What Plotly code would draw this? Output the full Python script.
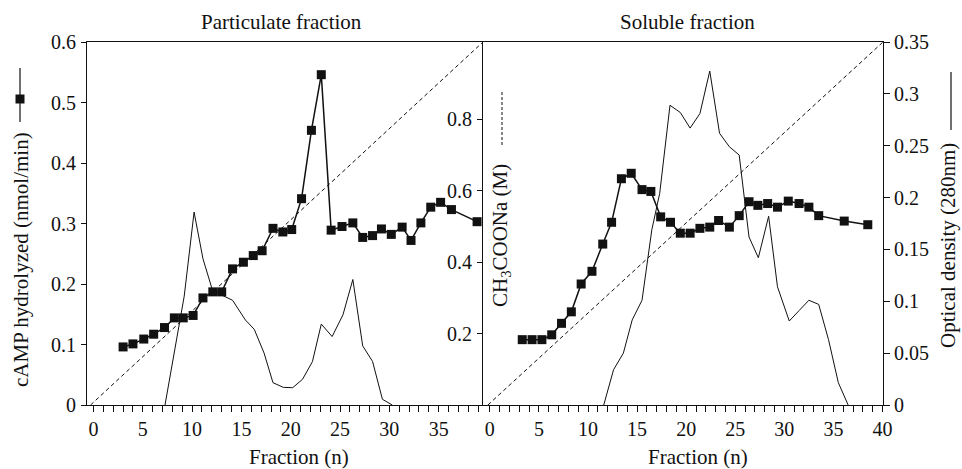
import plotly.graph_objects as go

# ---------------- data ----------------
# Particulate fraction: cAMP hydrolyzed (nmol/min)
part_frac = [3, 4, 5.1, 6.1, 7.2, 8.2, 9.1, 10.1, 11.1, 12.1, 13, 14.1, 15.2, 16.2, 17.1,
             18.2, 19.2, 20.1, 21.1, 22.1, 23.1, 24.1, 25.2, 26.3, 27.3, 28.3, 29.2,
             30.2, 31.3, 32.2, 33.2, 34.2, 35.2, 36.3, 38.9]
part_camp = [0.096, 0.101, 0.109, 0.117, 0.128, 0.144, 0.144, 0.148, 0.177, 0.187, 0.187,
             0.225, 0.236, 0.247, 0.255, 0.292, 0.286, 0.290, 0.341, 0.454, 0.546,
             0.289, 0.295, 0.301, 0.277, 0.280, 0.291, 0.282, 0.294, 0.272, 0.301,
             0.327, 0.335, 0.323, 0.303]
# Particulate fraction: optical density (280 nm)
part_od_frac = [7.25, 8.2, 9.2, 10.2, 11.1, 12.15, 13.0, 14.1, 15.4, 16.3, 17.3, 18.2,
                19.25, 20.2, 21.2, 22.2, 23.1, 24.2, 25.3, 26.3, 27.3, 28.3, 29.3, 30.3]
part_od = [0.0, 0.05, 0.105, 0.186, 0.141, 0.108, 0.106, 0.101, 0.082, 0.073, 0.050,
           0.0215, 0.017, 0.0167, 0.0248, 0.0418, 0.078, 0.066, 0.087, 0.121, 0.057,
           0.042, 0.0055, 0.0]
# Particulate fraction: CH3COONa gradient (M)
part_grad_frac = [-0.3, 39.5]
part_grad_m = [0.0, 1.017]

# Soluble fraction: cAMP hydrolyzed (nmol/min)
sol_frac = [3.3, 4.3, 5.3, 6.3, 7.3, 8.3, 9.3, 10.4, 11.5, 12.4, 13.4, 14.4, 15.5, 16.4,
            17.4, 18.4, 19.4, 20.4, 21.4, 22.4, 23.3, 24.4, 25.4, 26.4, 27.3, 28.3,
            29.3, 30.4, 31.5, 32.5, 33.5, 36.1, 38.5]
sol_camp = [0.108, 0.108, 0.108, 0.116, 0.135, 0.154, 0.200, 0.221, 0.266, 0.302, 0.374,
            0.383, 0.356, 0.353, 0.311, 0.302, 0.284, 0.284, 0.292, 0.294, 0.305, 0.294,
            0.313, 0.336, 0.330, 0.333, 0.327, 0.337, 0.333, 0.327, 0.313, 0.304, 0.298]
# Soluble fraction: optical density (280 nm)
sol_od_frac = [11.6, 12.6, 13.6, 14.5, 15.5, 16.5, 17.3, 18.35, 19.4, 20.4, 21.4, 22.4,
               23.4, 24.4, 25.4, 26.4, 27.35, 28.4, 29.3, 30.5, 31.5, 32.5, 33.5, 34.5,
               35.5, 36.5]
sol_od = [0.0, 0.034, 0.050, 0.082, 0.101, 0.169, 0.204, 0.289, 0.282, 0.267, 0.281,
          0.322, 0.262, 0.249, 0.241, 0.162, 0.142, 0.182, 0.114, 0.081, 0.091, 0.101,
          0.097, 0.063, 0.0215, 0.0]
# Soluble fraction: CH3COONa gradient (M)
sol_grad_frac = [-0.2, 40.05]
sol_grad_m = [0.0, 1.017]

# axis ticks
left_x_ticks = [0, 5, 10, 15, 20, 25, 30, 35]
right_x_ticks = [0, 5, 10, 15, 20, 25, 30, 35, 40]
camp_ticks = [0, 0.1, 0.2, 0.3, 0.4, 0.5, 0.6]
acetate_ticks = [0.2, 0.4, 0.6, 0.8]
od_ticks = [0, 0.05, 0.1, 0.15, 0.2, 0.25, 0.3, 0.35]

# ---------------- figure ----------------
FONT = "Liberation Serif"
fs_tick = 20
fs_lab = 21
black = "#111111"

fig = go.Figure()

sq = dict(symbol="square", size=9, color=black)

fig.add_trace(go.Scatter(x=part_grad_frac, y=part_grad_m, xaxis="x", yaxis="y3",
                         mode="lines", line=dict(color=black, width=1, dash="4px,3px")))
fig.add_trace(go.Scatter(x=part_od_frac, y=part_od, xaxis="x", yaxis="y2",
                         mode="lines", line=dict(color=black, width=1)))
fig.add_trace(go.Scatter(x=part_frac, y=part_camp, xaxis="x", yaxis="y",
                         mode="lines+markers", line=dict(color=black, width=1.5), marker=sq))

fig.add_trace(go.Scatter(x=sol_grad_frac, y=sol_grad_m, xaxis="x2", yaxis="y5",
                         mode="lines", line=dict(color=black, width=1, dash="4px,3px")))
fig.add_trace(go.Scatter(x=sol_od_frac, y=sol_od, xaxis="x2", yaxis="y4",
                         mode="lines", line=dict(color=black, width=1)))
fig.add_trace(go.Scatter(x=sol_frac, y=sol_camp, xaxis="x2", yaxis="y6",
                         mode="lines+markers", line=dict(color=black, width=1.5), marker=sq))

W, H = 962, 469
ml, mr, mt, mb = 87, 79, 42, 64
pw = W - ml - mr
ph = H - mt - mb
split = (483 - ml) / pw

tickfont = dict(family=FONT, size=fs_tick, color=black)
xcommon = dict(showline=True, linecolor=black, linewidth=1.2, mirror=True,
               ticks="outside", ticklen=6, tickwidth=1, tickcolor=black,
               showgrid=False, zeroline=False, tickfont=tickfont, tickmode="array",
               minor=dict(tick0=0, dtick=1, ticks="outside", ticklen=6, tickwidth=1,
                          tickcolor=black, showgrid=False))

fig.update_layout(
    width=W, height=H,
    margin=dict(l=ml, r=mr, t=mt, b=mb),
    paper_bgcolor="white", plot_bgcolor="white",
    showlegend=False,
    font=dict(family=FONT, size=fs_tick, color=black),
    xaxis=dict(domain=[0, split], range=[-0.66, 39.5], anchor="y",
               tickvals=left_x_ticks, ticktext=[str(v) for v in left_x_ticks],
               **xcommon),
    xaxis2=dict(domain=[split, 1], range=[-0.7, 40.05], anchor="y4",
                tickvals=right_x_ticks, ticktext=[str(v) for v in right_x_ticks],
                **xcommon),
    yaxis=dict(range=[0, 0.6], anchor="x", side="left", showline=True, linecolor=black,
               linewidth=1.2, ticks="outside", ticklen=5, tickcolor=black,
               tickvals=camp_ticks, ticktext=[("%g" % v) for v in camp_ticks],
               showgrid=False, zeroline=False, tickfont=tickfont, ticklabelstandoff=1),
    yaxis2=dict(range=[0, 0.35], overlaying="y", anchor="x", visible=False),
    yaxis3=dict(range=[0, 1.017], overlaying="y", anchor="x", visible=False),
    yaxis4=dict(range=[0, 0.35], anchor="x2", side="right", showline=True, linecolor=black,
                linewidth=1.2, ticks="outside", ticklen=6, tickcolor=black,
                tickvals=od_ticks, ticktext=[("%g" % v) for v in od_ticks],
                showgrid=False, zeroline=False, tickfont=tickfont),
    yaxis5=dict(range=[0, 1.017], overlaying="y4", anchor="x2", side="left",
                showline=True, linecolor=black, linewidth=1.2, ticks="outside",
                ticklen=5, tickcolor=black, tickvals=acetate_ticks,
                ticktext=[("%g" % v) for v in acetate_ticks],
                showgrid=False, zeroline=False, tickfont=tickfont, ticklabelstandoff=1),
    yaxis6=dict(range=[0, 0.6], overlaying="y4", anchor="x2", visible=False),
)

def px(xp):
    return (xp - ml) / pw

def py(yp):
    return (H - mb - yp) / ph

ann = [
    dict(text="Particulate fraction", x=px(281), y=py(22)),
    dict(text="Soluble fraction", x=px(687), y=py(22)),
    dict(text="Fraction (n)", x=px(299), y=py(457)),
    dict(text="Fraction (n)", x=px(698), y=py(457)),
    dict(text="cAMP hydrolyzed (nmol/min)", x=px(21), y=py(260), textangle=-90),
    dict(text="Optical density (280nm)", x=px(948), y=py(246), textangle=-90),
    dict(text="CH<sub>3</sub>COONa (M)", x=px(501), y=py(236), textangle=-90),
]
for a in ann:
    fig.add_annotation(xref="paper", yref="paper", showarrow=False,
                       xanchor="center", yanchor="middle",
                       font=dict(family=FONT, size=fs_lab, color=black), **a)

# legend keys drawn next to the axis titles
keys = [
    dict(type="line", x0=px(20), x1=px(20), y0=py(68), y1=py(122),
         line=dict(color=black, width=1.2)),
    dict(type="rect", x0=px(15.5), x1=px(24.5), y0=py(94.5), y1=py(103.5),
         fillcolor=black, line=dict(color=black, width=0)),
    dict(type="line", x0=px(951), x1=px(951), y0=py(72), y1=py(130),
         line=dict(color=black, width=1.2)),
    dict(type="line", x0=px(502), x1=px(502), y0=py(92), y1=py(145),
         line=dict(color=black, width=1, dash="3px,2px")),
]
for k in keys:
    fig.add_shape(xref="paper", yref="paper", **k)

fig.write_html("out.html")
